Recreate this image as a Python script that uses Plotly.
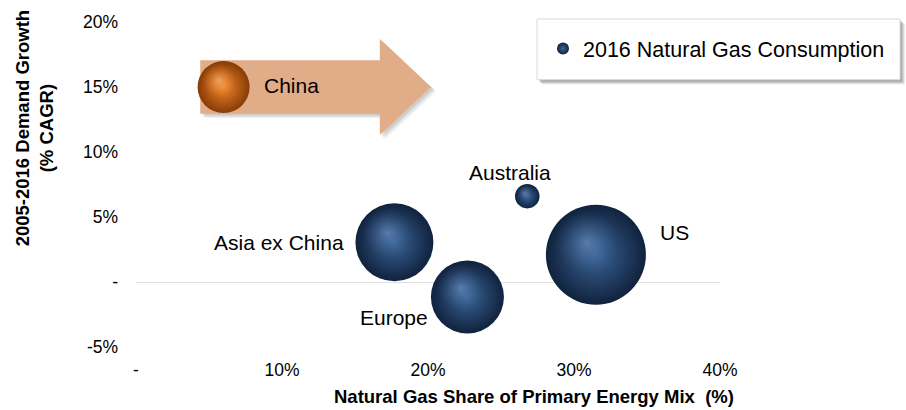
import math
import plotly.graph_objects as go

# ---- data ----
regions = ["China", "Australia", "Asia ex China", "Europe", "US"]
gas_share = [6.0, 26.8, 17.7, 22.7, 31.5]          # % of primary energy mix
demand_growth = [15.0, 6.6, 3.05, -1.15, 2.1]       # 2005-2016 CAGR %
consumption = [203, 45, 456, 400, 750]              # bubble size (2016 consumption)
x_tickvals = [0, 10, 20, 30, 40]
x_ticktext = ["-", "10%", "20%", "30%", "40%"]
y_tickvals = [-5, 0, 5, 10, 15, 20]
y_ticktext = ["-5%", "-", "5%", "10%", "15%", "20%"]
legend_name = "2016 Natural Gas Consumption"

# ---- layout constants ----
W, H = 906, 410
L, R, T, B = 136, 186, 20, 63
PW, PH = W - L - R, H - T - B
XR, YR = (0, 40), (-5, 20)
FONT = "Liberation Sans, Arial, sans-serif"
MAX_D = 100  # px diameter of largest bubble
sizeref = 2 * max(consumption) / MAX_D ** 2
px_per_x = PW / (XR[1] - XR[0])
px_per_y = PH / (YR[1] - YR[0])

def px2paper(px, py):
    return (px - L) / PW, (H - B - py) / PH

fig = go.Figure()

hl = regions.index("China")
others = [i for i in range(len(regions)) if i != hl]

# note: for radial gradients plotly uses gradient.color at the centre, marker.color at the rim
def sphere(idx, centre, rim, hi_centre, hi_rim, name, showlegend):
    xs = [gas_share[i] for i in idx]
    ys = [demand_growth[i] for i in idx]
    ss = [consumption[i] for i in idx]
    fig.add_trace(go.Scatter(
        x=xs, y=ys, mode="markers", name=name,
        marker=dict(size=ss, sizemode="area", sizeref=sizeref, color=rim, opacity=1,
                    line=dict(width=0), gradient=dict(type="radial", color=centre)),
        hoverinfo="skip", showlegend=showlegend))
    # soft highlight toward the upper-left of each sphere
    hx, hy, hs = [], [], []
    for x, y, s in zip(xs, ys, ss):
        r = MAX_D * math.sqrt(s / max(consumption)) / 2
        hx.append(x - 0.18 * r / px_per_x)
        hy.append(y + 0.25 * r / px_per_y)
        hs.append(s * 0.40)
    fig.add_trace(go.Scatter(
        x=hx, y=hy, mode="markers", name=name + " highlight",
        marker=dict(size=hs, sizemode="area", sizeref=sizeref, color=hi_rim, opacity=1,
                    line=dict(width=0), gradient=dict(type="radial", color=hi_centre)),
        hoverinfo="skip", showlegend=False))

sphere(others, "#3b6497", "#10223d", "rgba(125,160,210,0.55)", "rgba(59,100,151,0)",
       legend_name, True)
sphere([hl], "#ef862c", "#883b05", "rgba(255,192,125,0.65)", "rgba(239,134,44,0)",
       regions[hl], False)

# ---- arrow behind China (relative to China point) ----
cx, cy = gas_share[hl], demand_growth[hl]
body_l, head_s, tip = cx - 1.6, cx + 10.7, cx + 14.2
bh, hh = 2.05, 3.7

def arrow_path(dx=0.0, dy=0.0):
    pts = [(body_l, cy + bh), (head_s, cy + bh), (head_s, cy + hh), (tip, cy),
           (head_s, cy - hh), (head_s, cy - bh), (body_l, cy - bh)]
    return "M " + " L ".join(f"{x + dx},{y + dy}" for x, y in pts) + " Z"

shapes = []
for k, op in [(0.35, 0.10), (0.25, 0.14), (0.15, 0.18)]:
    shapes.append(dict(type="path", path=arrow_path(k, -k), xref="x", yref="y",
                       fillcolor=f"rgba(120,120,120,{op})", line=dict(width=0), layer="below"))
shapes.append(dict(type="path", path=arrow_path(), xref="x", yref="y",
                   fillcolor="#e1ad88", line=dict(width=0), layer="below"))

# ---- legend box with shadow ----
bx0, by0, bx1, by1 = 537, 17, 900, 78
for off, op in [(5, 0.10), (4, 0.14), (3, 0.18), (2, 0.22)]:
    x0, y0 = px2paper(bx0 + off, by1 + off)
    x1, y1 = px2paper(bx1 + off, by0 + off)
    shapes.append(dict(type="rect", xref="paper", yref="paper", x0=x0, y0=y0, x1=x1, y1=y1,
                       fillcolor=f"rgba(90,90,90,{op})", line=dict(width=0), layer="above"))
x0, y0 = px2paper(bx0, by1)
x1, y1 = px2paper(bx1, by0)
shapes.append(dict(type="rect", xref="paper", yref="paper", x0=x0, y0=y0, x1=x1, y1=y1,
                   fillcolor="white", line=dict(color="#d9d9d9", width=1), layer="above"))

# ---- region labels ----
label_style = {
    "China": dict(xanchor="left", xshift=38, yshift=2),
    "Australia": dict(xanchor="center", xshift=-17, yshift=24),
    "Asia ex China": dict(xanchor="right", xshift=-48, yshift=0),
    "Europe": dict(xanchor="right", xshift=-37, yshift=-21),
    "US": dict(xanchor="left", xshift=62, yshift=22),
}
annotations = []
for i, name in enumerate(regions):
    st = label_style[name]
    annotations.append(dict(x=gas_share[i], y=demand_growth[i], text=name, showarrow=False,
                            xref="x", yref="y", yanchor="middle",
                            font=dict(family=FONT, size=21, color="#000"), **st))

# axis titles as annotations (both are offset from the axis centre in the reference)
ax_, ay_ = px2paper(34, 127)
annotations.append(dict(x=ax_, y=ay_, xref="paper", yref="paper", showarrow=False,
                        text="2005-2016 Demand Growth<br>(% CAGR)", textangle=-90,
                        font=dict(family=FONT, size=18.5, color="#000", weight="bold"),
                        xanchor="center", yanchor="middle"))
tx, ty = px2paper(534, 397)
annotations.append(dict(x=tx, y=ty, xref="paper", yref="paper", showarrow=False,
                        text="Natural Gas Share of Primary Energy Mix  (%)",
                        font=dict(family=FONT, size=18.5, color="#000", weight="bold"),
                        xanchor="center", yanchor="middle"))

lx, ly = px2paper(543, 26)
fig.update_layout(
    width=W, height=H, margin=dict(l=L, r=R, t=T, b=B),
    paper_bgcolor="white", plot_bgcolor="white",
    font=dict(family=FONT, color="#000"),
    shapes=shapes, annotations=annotations,
    legend=dict(x=lx, y=ly, xanchor="left", yanchor="top", bgcolor="rgba(0,0,0,0)",
                itemsizing="constant", font=dict(family=FONT, size=21.5, color="#000")),
    xaxis=dict(range=list(XR), tickvals=x_tickvals, ticktext=x_ticktext, showgrid=False,
               zeroline=False, showline=False, ticks="", ticklabelstandoff=10,
               tickfont=dict(family=FONT, size=17.5)),
    yaxis=dict(range=list(YR), tickvals=y_tickvals, ticktext=y_ticktext, showgrid=False,
               zeroline=True, zerolinecolor="#dedede", zerolinewidth=1.3, showline=False,
               ticks="", ticklabelstandoff=17, tickfont=dict(family=FONT, size=17.5)),
)

fig.write_html("out.html")
